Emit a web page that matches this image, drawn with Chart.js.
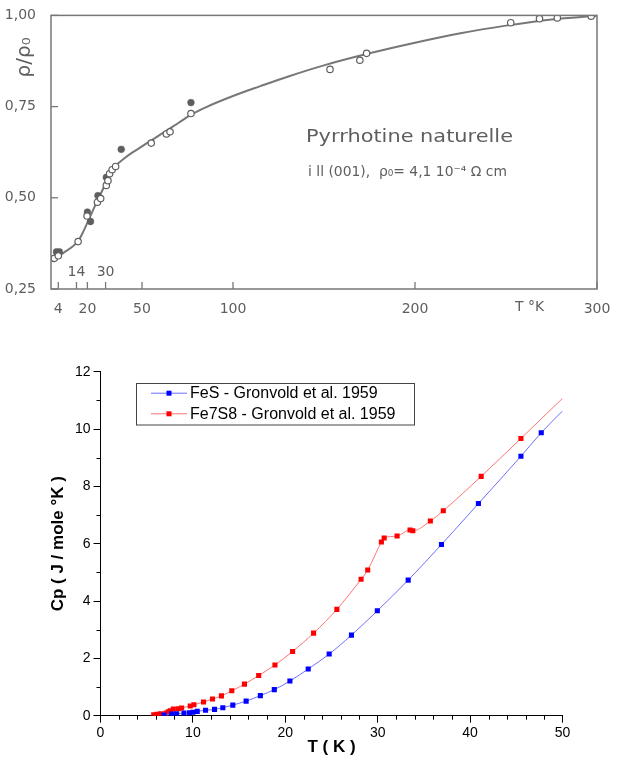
<!DOCTYPE html>
<html><head><meta charset="utf-8">
<script src="https://cdn.jsdelivr.net/npm/chart.js@4.4.1/dist/chart.umd.min.js"></script>
<style>
html,body{margin:0;padding:0;background:#fff;width:624px;height:759px;overflow:hidden;}
#top{position:absolute;left:0;top:0;}
#bot{position:absolute;left:0;top:340px;}
</style></head><body>
<canvas id="top" width="624" height="320"></canvas>
<canvas id="bot" width="624" height="419"></canvas>
<script>
// ---------- Top chart data (rho/rho0 vs T) ----------
const curveT   = [4, 6, 8, 11, 15, 18, 20, 23, 25, 28, 30, 33, 36, 40, 45, 50, 55, 60, 65, 70, 77, 85, 100, 115, 130, 150, 175, 200, 225, 250, 275, 300];
const curveRho = [0.340, 0.346, 0.353, 0.363, 0.382, 0.410, 0.432, 0.465, 0.487, 0.518, 0.540, 0.570, 0.590, 0.607, 0.625, 0.641, 0.657, 0.673, 0.689, 0.705, 0.728, 0.748, 0.779, 0.806, 0.832, 0.863, 0.896, 0.925, 0.951, 0.972, 0.989, 0.999];
const openT   = [1.8, 4.0, 14.9, 19.8, 25.5, 27.3, 30.4, 31.3, 32.2, 33.6, 35.5, 55.1, 63.4, 65.4, 76.9, 153.3, 169.7, 173.4, 252.6, 268.4, 278.2, 296.8];
const openRho = [0.334, 0.341, 0.380, 0.450, 0.488, 0.498, 0.534, 0.547, 0.566, 0.577, 0.586, 0.650, 0.675, 0.681, 0.731, 0.852, 0.877, 0.896, 0.980, 0.991, 0.993, 0.998];
const fillT   = [3.0, 3.8, 4.6, 20.0, 21.7, 25.8, 30.4, 38.6, 76.9];
const fillRho = [0.352, 0.345, 0.352, 0.461, 0.435, 0.506, 0.556, 0.633, 0.761];
const topXTicks = [4, 14, 20, 30, 50, 100, 200, 300];
const topXLabelsBelow  = ['4', '', '20', '', '50', '100', '200', '300'];
const topXLabelsInside = ['', '14', '', '30', '', '', '', ''];
const topYTicks  = [0.25, 0.5, 0.75, 1.0];
const topYLabels = ['0,25', '0,50', '0,75', '1,00'];
const topUnitLabel = 'T °K';
const topTitle = 'Pyrrhotine naturelle';
const topSubtitle = 'i ll (001),  ρ₀= 4,1 10⁻⁴ Ω cm';
const topYTitle = 'ρ/ρ₀';

// ---------- Bottom chart data (Cp vs T) ----------
const fesLabel = 'FeS - Gronvold et al. 1959';
const fesT  = [6.87, 7.70, 8.24, 9.03, 9.64, 10.0, 10.47, 11.37, 12.34, 13.24, 14.32, 15.76, 17.30, 18.81, 20.50, 22.48, 24.75, 27.16, 29.96, 33.3, 36.9, 40.9, 45.5, 47.7];
const fesCp = [0.02, 0.06, 0.07, 0.09, 0.10, 0.12, 0.15, 0.19, 0.22, 0.28, 0.37, 0.51, 0.70, 0.91, 1.21, 1.63, 2.15, 2.81, 3.66, 4.73, 5.97, 7.40, 9.05, 9.87];
const fesLineEnd = [50, 10.63];
const fe7Label = 'Fe7S8 - Gronvold et al. 1959';
const fe7T  = [5.76, 6.12, 6.51, 7.09, 7.34, 7.55, 7.88, 8.42, 8.78, 9.71, 10.11, 11.15, 12.12, 13.09, 14.21, 15.58, 17.12, 18.88, 20.79, 23.06, 25.58, 28.2, 28.92, 30.4, 30.7, 32.1, 33.5, 33.8, 35.7, 37.1, 41.2, 45.5];
const fe7Cp = [0.03, 0.05, 0.07, 0.09, 0.14, 0.17, 0.23, 0.24, 0.27, 0.34, 0.38, 0.48, 0.58, 0.69, 0.87, 1.10, 1.40, 1.77, 2.24, 2.88, 3.71, 4.76, 5.08, 6.06, 6.20, 6.27, 6.48, 6.45, 6.79, 7.15, 8.35, 9.67];
const fe7LineEnd = [50, 11.07];
const botXTitle = 'T ( K )';
const botYTitle = 'Cp ( J / mole °K )';

// ---------- Top chart ----------
const GRAY = '#5e5e5e';
const GRAYL = '#777777';
const TOPFONT = '"DejaVu Sans", "Open Sans", sans-serif';
const pts = (xs, ys) => xs.map((v, i) => ({x: v, y: ys[i]}));

function fitText(ctx, text, x, y, width) {
  const w = ctx.measureText(text).width;
  ctx.save();
  ctx.translate(x, y);
  ctx.scale(width / w, 1);
  ctx.fillText(text, 0, 0);
  ctx.restore();
}

const topDecor = {
  id: 'topDecor',
  afterDraw(chart) {
    const {ctx, chartArea: a, scales: {x, y}} = chart;
    ctx.save();
    ctx.strokeStyle = GRAYL; ctx.lineWidth = 1.5;
    ctx.strokeRect(a.left, a.top, a.right - a.left, a.bottom - a.top);
    ctx.lineWidth = 1.3;
    ctx.fillStyle = GRAY;
    ctx.font = '14px ' + TOPFONT;
    ctx.textAlign = 'center'; ctx.textBaseline = 'middle';
    topXTicks.forEach((v, i) => {
      const px = x.getPixelForValue(v);
      ctx.beginPath(); ctx.moveTo(px, a.bottom); ctx.lineTo(px, a.bottom - 7); ctx.stroke();
      if (topXLabelsInside[i]) ctx.fillText(topXLabelsInside[i], px, a.bottom - 17);
    });
    topYTicks.forEach(v => {
      const py = y.getPixelForValue(v);
      ctx.beginPath(); ctx.moveTo(a.left, py); ctx.lineTo(a.left + 7, py); ctx.stroke();
    });
    ctx.fillText(topUnitLabel, x.getPixelForValue(263), a.bottom + 18);
    // y title
    ctx.save();
    ctx.translate(25, a.top + 42);
    ctx.rotate(-Math.PI / 2);
    ctx.font = '20px ' + TOPFONT;
    ctx.fillText(topYTitle, 0, 0);
    ctx.restore();
    // annotation
    ctx.textAlign = 'left';
    ctx.font = '18px ' + TOPFONT;
    fitText(ctx, topTitle, a.left + 255, a.top + 122, 207);
    ctx.font = '14px ' + TOPFONT;
    fitText(ctx, topSubtitle, a.left + 257, a.top + 157, 199);
    ctx.restore();
  }
};

new Chart(document.getElementById('top'), {
  type: 'scatter',
  data: {
    datasets: [
      {data: pts(curveT, curveRho), showLine: true, pointRadius: 0, borderColor: GRAYL, borderWidth: 2,
       cubicInterpolationMode: 'monotone', order: 3},
      {data: pts(openT, openRho), pointRadius: 3.2, pointBorderWidth: 1.2, pointBorderColor: GRAY,
       pointBackgroundColor: '#ffffff', order: 1},
      {data: pts(fillT, fillRho), pointRadius: 3.4, pointBorderWidth: 0.5, pointBorderColor: GRAY,
       pointBackgroundColor: GRAY, order: 2}
    ]
  },
  options: {
    responsive: false, animation: false,
    layout: {padding: {left: 0, top: 15, right: 27, bottom: 0}},
    plugins: {legend: {display: false}, tooltip: {enabled: false}},
    scales: {
      x: {type: 'linear', min: 0, max: 300,
        afterBuildTicks: s => { s.ticks = topXTicks.map(v => ({value: v})); },
        afterFit: s => { s.height = 31; },
        grid: {display: false}, border: {display: false},
        ticks: {autoSkip: false, maxRotation: 0, padding: 4, color: GRAY,
          font: {family: TOPFONT, size: 14}, callback: (v, i) => topXLabelsBelow[i]}},
      y: {type: 'linear', min: 0.25, max: 1.0,
        afterBuildTicks: s => { s.ticks = topYTicks.map(v => ({value: v})); },
        afterFit: s => { s.width = 51; },
        grid: {display: false}, border: {display: false},
        ticks: {autoSkip: false, padding: 7, color: GRAY,
          font: {family: TOPFONT, size: 14}, callback: (v, i) => topYLabels[i]}}
    }
  },
  plugins: [topDecor]
});

// ---------- Bottom chart ----------
const ARIAL = 'Arial, "Liberation Sans", sans-serif';
const BLUE_LINE = '#6f6fff', BLUE = '#0000ff';
const RED_LINE = '#ff7474', RED = '#ff0000';

const botDecor = {
  id: 'botDecor',
  afterDraw(chart) {
    const {ctx, chartArea: a, scales: {x, y}} = chart;
    ctx.save();
    ctx.strokeStyle = '#000'; ctx.lineWidth = 1;
    for (let v = 2; v < 50; v += 2) {
      if (v % 10 === 0) continue;
      const px = Math.round(x.getPixelForValue(v)) + 0.5;
      ctx.beginPath(); ctx.moveTo(px, a.bottom); ctx.lineTo(px, a.bottom + 4); ctx.stroke();
    }
    for (let v = 1; v < 12; v += 2) {
      const py = Math.round(y.getPixelForValue(v)) + 0.5;
      ctx.beginPath(); ctx.moveTo(a.left, py); ctx.lineTo(a.left - 4, py); ctx.stroke();
    }
    // legend
    const lx = a.left + 35.5, ly = a.top + 11, w = 278, h = 41.5;
    ctx.strokeStyle = '#444';
    ctx.strokeRect(Math.round(lx) + 0.5, Math.round(ly) + 0.5, w, h);
    ctx.font = '16px ' + ARIAL;
    ctx.textAlign = 'left'; ctx.textBaseline = 'middle';
    chart.data.datasets.forEach((ds, i) => {
      const ry = ly + 10.5 + i * 20.6;
      ctx.strokeStyle = ds.borderColor; ctx.lineWidth = 1;
      ctx.beginPath(); ctx.moveTo(lx + 15, ry); ctx.lineTo(lx + 51, ry); ctx.stroke();
      ctx.fillStyle = ds.pointBackgroundColor;
      ctx.fillRect(lx + 30.5, ry - 2.5, 5, 5);
      ctx.fillStyle = '#000';
      ctx.fillText(ds.label, lx + 54, ry + 0.5);
    });
    ctx.restore();
  }
};

const withEnd = (xs, ys, end) => pts(xs, ys).concat([{x: end[0], y: end[1]}]);

new Chart(document.getElementById('bot'), {
  type: 'scatter',
  data: {
    datasets: [
      {label: fesLabel, data: withEnd(fesT, fesCp, fesLineEnd), showLine: true,
       borderColor: BLUE_LINE, borderWidth: 1, cubicInterpolationMode: 'monotone',
       pointStyle: 'rect', pointRadius: c => c.dataIndex >= fesT.length ? 0 : 3.6,
       pointBackgroundColor: BLUE, pointBorderColor: BLUE, pointBorderWidth: 0},
      {label: fe7Label, data: withEnd(fe7T, fe7Cp, fe7LineEnd), showLine: true,
       borderColor: RED_LINE, borderWidth: 1, cubicInterpolationMode: 'monotone',
       pointStyle: 'rect', pointRadius: c => c.dataIndex >= fe7T.length ? 0 : 3.6,
       pointBackgroundColor: RED, pointBorderColor: RED, pointBorderWidth: 0}
    ]
  },
  options: {
    responsive: false, animation: false,
    layout: {padding: {left: 48, top: 31.7, right: 61.5, bottom: 0}},
    plugins: {legend: {display: false}, tooltip: {enabled: false}},
    scales: {
      x: {type: 'linear', min: 0, max: 50,
        afterFit: s => { s.height = 43.3; },
        ticks: {stepSize: 10, padding: 2, color: '#000', font: {family: ARIAL, size: 14}, maxRotation: 0},
        grid: {drawOnChartArea: false, tickLength: 7, color: '#000', tickColor: '#000'},
        border: {display: true, color: '#000', width: 1},
        title: {display: true, text: botXTitle, color: '#000', padding: {top: 0, bottom: 1},
          font: {family: ARIAL, size: 17, weight: 'bold'}}},
      y: {type: 'linear', min: 0, max: 12,
        afterFit: s => { s.width = 52.5; },
        ticks: {stepSize: 2, padding: 3, color: '#000', font: {family: ARIAL, size: 14}},
        grid: {drawOnChartArea: false, tickLength: 7, color: '#000', tickColor: '#000'},
        border: {display: true, color: '#000', width: 1},
        title: {display: true, text: botYTitle, color: '#000', padding: {top: 0, bottom: 1},
          font: {family: ARIAL, size: 17, weight: 'bold'}}}
    }
  },
  plugins: [botDecor]
});
</script>
</body></html>
